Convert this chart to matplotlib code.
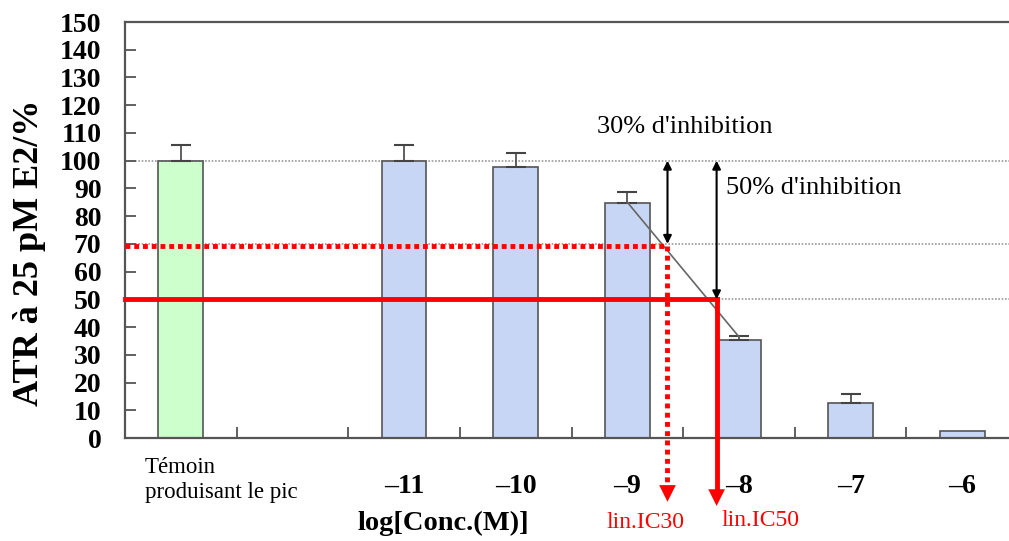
import matplotlib
matplotlib.use("Agg")
import matplotlib.pyplot as plt
import numpy as np

plt.rcParams['font.family'] = ['Liberation Serif', 'DejaVu Serif']

# ---- data ----
categories = ["Témoin\nproduisant le pic", "", "\u201311", "\u201310", "\u20139", "\u20138", "\u20137", "\u20136"]
values = [100, None, 100, 97.8, 84.6, 35.3, 12.8, 2.4]
errors = [5.5, None, 5.5, 5.0, 4.0, 1.5, 3.0, 0.0]
bar_colors = ["#CCFFCC", None, "#C8D6F6", "#C8D6F6", "#C8D6F6", "#C8D6F6", "#C8D6F6", "#C8D6F6"]
yticks = list(range(0, 151, 10))
grid_levels = [100, 70, 50]
ic30_level = 69.3
ic50_level = 50
ic30_x = 4.36
ic50_x = 4.80
fit_x = [4.0, 5.0]
fit_y = [85.0, 36.5]
arrow_bottom = -24

fig = plt.figure(figsize=(10.09, 5.41), dpi=100)
W, H = 1009, 541
ax_left, ax_right, ax_top, ax_bot = 125, 1018, 22, 438
ax = fig.add_axes([ax_left / W, (H - ax_bot) / H, (ax_right - ax_left) / W, (ax_bot - ax_top) / H])
ax.set_xlim(-0.5, 7.5)
ax.set_ylim(0, 150)

# grid lines
for g in grid_levels:
    ax.axhline(g, color="#999999", lw=1.2, ls=(0, (1, 1)), zorder=1)

idx = [i for i, v in enumerate(values) if v is not None]
xs = np.array(idx)
vals = np.array([values[i] for i in idx])
errs = np.array([errors[i] for i in idx])
cols = [bar_colors[i] for i in idx]
ax.bar(xs, vals, width=0.4, color=cols, edgecolor="#555555", linewidth=1.2, zorder=2)
ax.errorbar(xs[errs > 0], vals[errs > 0], yerr=[np.zeros((errs > 0).sum()), errs[errs > 0]],
            fmt="none", ecolor="#444444", elinewidth=1.2, capsize=7, capthick=1.5, zorder=3)

# fitted line
ax.plot(fit_x, fit_y, color="#666666", lw=1.2, zorder=4)

# red horizontal lines
ax.plot([-0.5, ic30_x], [ic30_level, ic30_level], color="red", lw=3.5, ls=(0, (1, 0.8)), zorder=5, clip_on=False)
ax.plot([-0.5, ic50_x], [ic50_level, ic50_level], color="red", lw=3.5, zorder=5, clip_on=False)

# red vertical arrows
ax.plot([ic30_x, ic30_x], [ic30_level, arrow_bottom + 6], color="red", lw=3.5, ls=(0, (1, 0.9)), zorder=5, clip_on=False)
ax.annotate("", xy=(ic30_x, arrow_bottom), xytext=(ic30_x, arrow_bottom + 7),
            arrowprops=dict(arrowstyle="-|>", color="red", lw=0, mutation_scale=30),
            annotation_clip=False, zorder=6)
ax.plot([ic50_x, ic50_x], [ic50_level, arrow_bottom - 1 + 6], color="red", lw=3.5, zorder=5, clip_on=False)
ax.annotate("", xy=(ic50_x, arrow_bottom - 1.5), xytext=(ic50_x, arrow_bottom + 5.5),
            arrowprops=dict(arrowstyle="-|>", color="red", lw=0, mutation_scale=30),
            annotation_clip=False, zorder=6)

# black double arrows
for xx, lo in [(ic30_x, ic30_level + 0.7), (ic50_x, ic50_level)]:
    ax.annotate("", xy=(xx, 100), xytext=(xx, lo),
                arrowprops=dict(arrowstyle="<|-|>", color="black", lw=1.5, mutation_scale=12,
                                shrinkA=0, shrinkB=0), zorder=7)

ax.text(3.73, 112.3, "30% d'inhibition", fontsize=19, ha="left", va="center")
ax.text(4.88, 90.3, "50% d'inhibition", fontsize=19, ha="left", va="center")

# axes styling
for s in ax.spines.values():
    s.set_color("#555555")
    s.set_linewidth(1.6)
ax.set_yticks(yticks)
ax.set_yticklabels([str(t) for t in yticks], fontsize=20, fontweight="bold")
ax.tick_params(axis="y", direction="in", length=8, width=1.3, color="#555555", pad=17)
ax.set_xticks(range(len(categories)))
ax.set_xticklabels(["", ""] + categories[2:], fontsize=20, fontweight="bold")
ax.tick_params(axis="x", which="major", length=0, pad=26)
ax.set_xticks(np.arange(0.5, 7.5, 1.0), minor=True)
ax.tick_params(axis="x", which="minor", direction="in", length=8, width=1.3, color="#555555")

fig.text(145 / W, 1 - 480 / H, categories[0], fontsize=16.5, ha="left", va="center", linespacing=1.3)
fig.text(443 / W, 1 - 523 / H, "log[Conc.(M)]", fontsize=20.5, fontweight="bold", ha="center", va="center")
fig.text(645 / W, 1 - 523 / H, "lin.IC30", fontsize=17, color="red", ha="center", va="center")
fig.text(760 / W, 1 - 520 / H, "lin.IC50", fontsize=17, color="red", ha="center", va="center")
fig.text(30 / W, 1 - 253 / H, "ATR à 25 pM E2/%", fontsize=26, fontweight="bold", rotation=90,
         ha="center", va="center")

fig.savefig("out.png", dpi=100)
